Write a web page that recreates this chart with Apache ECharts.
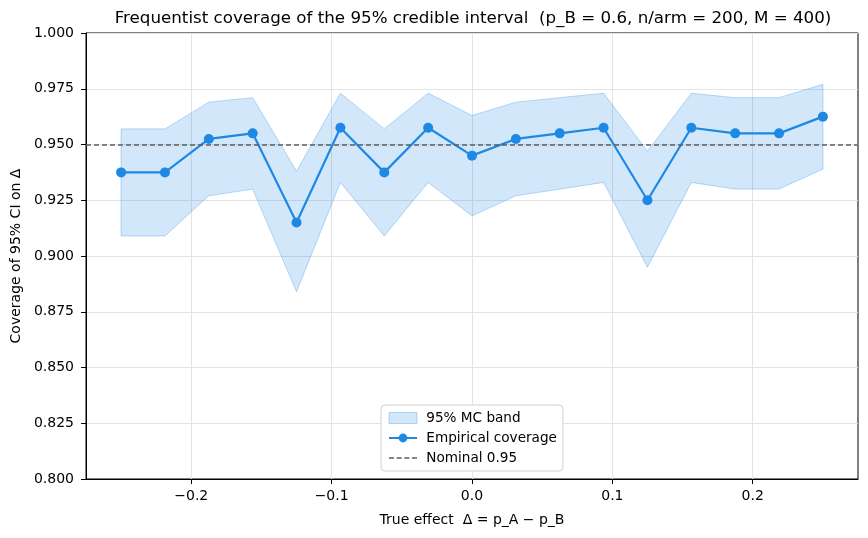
<!DOCTYPE html>
<html>
<head>
<meta charset="utf-8">
<script src="https://cdn.jsdelivr.net/npm/echarts@6/dist/echarts.min.js"></script>
<style>
  html, body { margin: 0; padding: 0; background: #fff; }
  #chart { width: 868px; height: 538px; }
</style>
</head>
<body>
<div id="chart"></div>
<script>
// true effect values (delta = p_A - p_B)
const deltas = [-0.25, -0.21875, -0.1875, -0.15625, -0.125, -0.09375, -0.0625, -0.03125, 0,
  0.03125, 0.0625, 0.09375, 0.125, 0.15625, 0.1875, 0.21875, 0.25]
// empirical coverage over M = 400 replications
const coverage = [0.9375, 0.9375, 0.9525, 0.955, 0.915, 0.9575, 0.9375, 0.9575, 0.945,
  0.9525, 0.955, 0.9575, 0.925, 0.9575, 0.955, 0.955, 0.9625]
// 95% Monte Carlo band
const bandLower = [0.909, 0.909, 0.927, 0.930, 0.884, 0.933, 0.909, 0.933, 0.918,
  0.927, 0.930, 0.933, 0.895, 0.933, 0.930, 0.930, 0.939]
const bandUpper = [0.957, 0.957, 0.969, 0.971, 0.938, 0.973, 0.957, 0.973, 0.963,
  0.969, 0.971, 0.973, 0.947, 0.973, 0.971, 0.971, 0.977]
const nominal = 0.95
const xTicks = [-0.2, -0.1, 0, 0.1, 0.2]

const blue = '#1E88E5'
const bandFill = 'rgba(30,136,229,0.2)'
const bandEdge = 'rgba(30,136,229,0.3)'
const refGray = '#5f5f5f'
const font = 'DejaVu Sans'

// legend icon for the dashed reference line
const dashIcon = 'path://M0,0h5v1.3h-5z M7.6,0h5v1.3h-5z M15.2,0h5v1.3h-5z M22.8,0h5v1.3h-5z'

const chart = echarts.init(document.getElementById('chart'))

// band drawn as one polygon: upper edge left->right, lower edge right->left
function renderBand(params, api) {
  if (params.dataIndex !== 0) return null
  const upper = deltas.map((d, i) => api.coord([d, bandUpper[i]]))
  const lower = deltas.map((d, i) => api.coord([d, bandLower[i]])).reverse()
  return {
    type: 'polygon',
    shape: { points: upper.concat(lower) },
    style: { fill: bandFill, stroke: bandEdge, lineWidth: 1 },
    silent: true
  }
}

const option = {
  animation: false,
  textStyle: { fontFamily: font },
  title: {
    text: 'Frequentist coverage of the 95% credible interval  (p_B = 0.6, n/arm = 200, M = 400)',
    left: 468,
    textAlign: 'center',
    top: 5,
    textStyle: { fontFamily: font, fontSize: 16.7, fontWeight: 'normal', color: '#000' }
  },
  grid: {
    left: 86, right: 10, top: 33, bottom: 59,
    show: true, borderColor: '#000', borderWidth: 1
  },
  legend: {
    orient: 'vertical',
    left: 381,
    top: 405,
    padding: [6, 6, 6, 7],
    itemGap: 6,
    itemWidth: 28,
    itemHeight: 11,
    backgroundColor: '#fff',
    borderColor: '#d0d0d0',
    borderWidth: 1,
    borderRadius: 4,
    formatter: name => ' ' + name,
    textStyle: { fontFamily: font, fontSize: 13.6, color: '#000' },
    data: [
      { name: '95% MC band', icon: 'rect', itemStyle: { color: bandFill, borderColor: bandEdge, borderWidth: 1 } },
      { name: 'Empirical coverage' },
      { name: 'Nominal 0.95', icon: dashIcon, itemStyle: { color: refGray } }
    ]
  },
  xAxis: {
    type: 'value',
    min: -0.275,
    max: 0.275,
    axisLine: { show: true, onZero: false, lineStyle: { color: '#000' } },
    axisTick: { show: true, length: 5, customValues: xTicks, lineStyle: { color: '#000' } },
    axisLabel: {
      customValues: xTicks,
      color: '#000', fontSize: 14, margin: 10,
      formatter: v => (Math.abs(v) < 1e-9 ? '0.0' : v.toFixed(1).replace('-', '\u2212'))
    },
    splitLine: { show: true, lineStyle: { color: '#e3e3e3' } },
    name: 'True effect  \u0394 = p_A \u2212 p_B',
    nameLocation: 'middle',
    nameGap: 34,
    nameTextStyle: { fontFamily: font, fontSize: 14, color: '#000' }
  },
  yAxis: {
    type: 'value',
    min: 0.8,
    max: 1.0,
    interval: 0.025,
    axisLine: { show: true, onZero: false, lineStyle: { color: '#000' } },
    axisTick: { show: true, length: 5, lineStyle: { color: '#000' } },
    axisLabel: { color: '#000', fontSize: 14, margin: 12, formatter: v => v.toFixed(3) },
    splitLine: { show: true, lineStyle: { color: '#e3e3e3' } },
    name: 'Coverage of 95% CI on \u0394',
    nameLocation: 'middle',
    nameGap: 62,
    nameTextStyle: { fontFamily: font, fontSize: 14, color: '#000' }
  },
  series: [
    {
      name: '95% MC band',
      type: 'custom',
      renderItem: renderBand,
      data: deltas.map((d, i) => [d, bandLower[i], bandUpper[i]]),
      encode: { x: 0, y: [1, 2] },
      itemStyle: { color: bandFill },
      silent: true,
      z: 1
    },
    {
      name: 'Nominal 0.95',
      type: 'line',
      data: [],
      symbol: 'none',
      itemStyle: { color: refGray },
      lineStyle: { color: refGray, width: 1.5, type: [5, 3] },
      markLine: {
        silent: true,
        symbol: 'none',
        label: { show: false },
        lineStyle: { color: refGray, width: 1.5, type: [5, 3] },
        data: [{ yAxis: nominal }]
      },
      z: 2
    },
    {
      name: 'Empirical coverage',
      type: 'line',
      data: deltas.map((d, i) => [d, coverage[i]]),
      symbol: 'circle',
      symbolSize: 10,
      itemStyle: { color: blue },
      lineStyle: { color: blue, width: 2.2 },
      z: 3
    }
  ]
}

chart.setOption(option)
</script>
</body>
</html>
